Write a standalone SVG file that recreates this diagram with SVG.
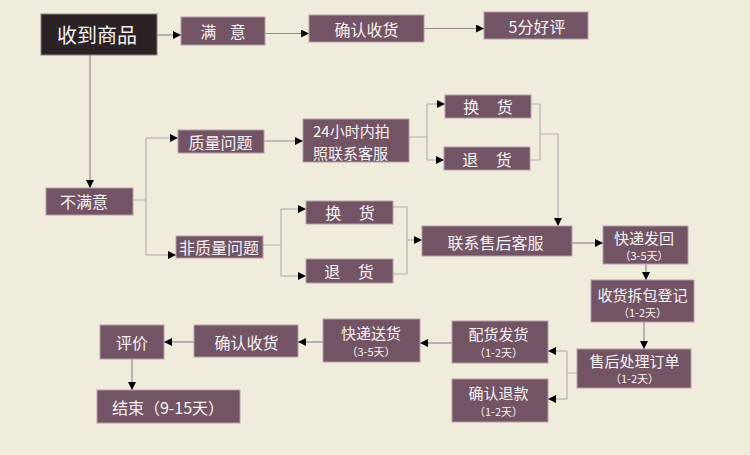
<svg xmlns="http://www.w3.org/2000/svg" width="750" height="455" viewBox="0 0 750 455">
<defs>
<style>
.bg{fill:#f0ecdc}
.box{fill:#735464;stroke:#b39ea9;stroke-width:1}
.dark{fill:#2b2225;stroke:#8c8284;stroke-width:1}
.t{fill:#f7f2f4;font-family:"Noto Sans CJK SC","Microsoft YaHei",sans-serif;font-size:16px;text-anchor:middle;dominant-baseline:central}
.h{font-size:15px}
.s{font-size:11px}
.big{font-size:20px}
.ln{fill:none;stroke:#9a8590;stroke-width:1.2}
.lt{fill:none;stroke:#bcaeb3;stroke-width:1.2}
</style>
<marker id="ah" viewBox="0 0 10 10" refX="10" refY="5" markerWidth="8" markerHeight="8" markerUnits="userSpaceOnUse" orient="auto">
<path d="M0,0 L10,5 L0,10 z" fill="#000"/>
</marker>
</defs>
<rect class="bg" x="0" y="0" width="750" height="455"/>
<g id="connectors">
<path class="ln" d="M157,35 H181" marker-end="url(#ah)"/>
<path class="ln" d="M265,33.5 H309" marker-end="url(#ah)"/>
<path class="ln" d="M424,28.5 H484" marker-end="url(#ah)"/>
<path class="ln" d="M90,55 V188" marker-end="url(#ah)"/>
<path class="lt" d="M133,200 H146 M146,138 V255"/>
<path class="lt" d="M146,138 H178" marker-end="url(#ah)"/>
<path class="lt" d="M146,255 H176" marker-end="url(#ah)"/>
<path class="ln" d="M264,141 H303" marker-end="url(#ah)"/>
<path class="lt" d="M409,137 H427 M427,104 V160"/>
<path class="lt" d="M427,104 H445" marker-end="url(#ah)"/>
<path class="lt" d="M427,160 H444" marker-end="url(#ah)"/>
<path class="lt" d="M531,104 H540 V160 H530 M540,134 H558"/>
<path class="lt" d="M558,134 V226" marker-end="url(#ah)"/>
<path class="lt" d="M263,245 H281 M281,209 V276"/>
<path class="lt" d="M281,209 H306" marker-end="url(#ah)"/>
<path class="lt" d="M281,276 H306" marker-end="url(#ah)"/>
<path class="lt" d="M393,207 H407 V274 H393"/>
<path class="lt" d="M407,240 H422" marker-end="url(#ah)"/>
<path class="ln" d="M572,243 H603" marker-end="url(#ah)"/>
<path class="ln" d="M646,264 V280" marker-end="url(#ah)"/>
<path class="ln" d="M644,322 V349" marker-end="url(#ah)"/>
<path class="lt" d="M577,373 H567 M567,351 V399"/>
<path class="lt" d="M567,351 H548" marker-end="url(#ah)"/>
<path class="lt" d="M567,399 H548" marker-end="url(#ah)"/>
<path class="ln" d="M452,343 H420" marker-end="url(#ah)"/>
<path class="ln" d="M323,342 H298" marker-end="url(#ah)"/>
<path class="ln" d="M194,342 H164" marker-end="url(#ah)"/>
<path class="ln" d="M132,359 V390" marker-end="url(#ah)"/>
</g>
<g id="n-receive"><rect class="dark" x="41" y="14" width="116" height="41"/><text class="t big" x="97" y="34.5">收到商品</text></g>
<g id="n-satisfied"><rect class="box" x="181" y="17" width="84" height="28"/><text class="t" x="223" y="31" word-spacing="10">满 意</text></g>
<g id="n-confirm1"><rect class="box" x="309" y="15" width="115" height="27"/><text class="t" x="366.5" y="29">确认收货</text></g>
<g id="n-good"><rect class="box" x="484" y="12" width="104" height="27"/><text class="t" x="537" y="26">5分好评</text></g>
<g id="n-unsatisfied"><rect class="box" x="46" y="188" width="87" height="27"/><text class="t" x="84" y="201">不满意</text></g>
<g id="n-quality"><rect class="box" x="178" y="130" width="86" height="23"/><text class="t" x="220.5" y="142">质量问题</text></g>
<g id="n-nonquality"><rect class="box" x="176" y="236" width="87" height="22"/><text class="t" x="219" y="247">非质量问题</text></g>
<g id="n-24h"><rect class="box" x="303" y="119" width="106" height="43"/><text class="t h" style="text-anchor:start"><tspan x="313" y="130">24小时内拍</tspan><tspan x="313" y="152">照联系客服</tspan></text></g>
<g id="n-exchange1"><rect class="box" x="445" y="95" width="86" height="23"/><text class="t" x="488" y="106" word-spacing="14">换 货</text></g>
<g id="n-return1"><rect class="box" x="444" y="147" width="86" height="23"/><text class="t" x="487" y="159" word-spacing="14">退 货</text></g>
<g id="n-exchange2"><rect class="box" x="306" y="201" width="87" height="23"/><text class="t" x="350" y="212" word-spacing="14">换 货</text></g>
<g id="n-return2"><rect class="box" x="306" y="259" width="87" height="24"/><text class="t" x="349" y="271" word-spacing="14">退 货</text></g>
<g id="n-contact"><rect class="box" x="422" y="226" width="150" height="30"/><text class="t" x="495.5" y="242">联系售后客服</text></g>
<g id="n-sendback"><rect class="box" x="603" y="226" width="85" height="38"/><text class="t h" x="644" y="237">快递发回</text><text class="t s" x="644" y="255">（3-5天）</text></g>
<g id="n-unpack"><rect class="box" x="591" y="280" width="103" height="42"/><text class="t h" x="642.5" y="294">收货拆包登记</text><text class="t s" x="642.5" y="312">（1-2天）</text></g>
<g id="n-process"><rect class="box" x="577" y="349" width="114" height="39"/><text class="t h" x="634.5" y="360">售后处理订单</text><text class="t s" x="634.5" y="378">（1-2天）</text></g>
<g id="n-ship"><rect class="box" x="452" y="321" width="96" height="42"/><text class="t h" x="498.5" y="333">配货发货</text><text class="t s" x="498.5" y="352">（1-2天）</text></g>
<g id="n-refund"><rect class="box" x="452" y="379" width="96" height="43"/><text class="t h" x="498.5" y="392">确认退款</text><text class="t s" x="498.5" y="411">（1-2天）</text></g>
<g id="n-deliver"><rect class="box" x="323" y="319" width="97" height="43"/><text class="t h" x="371" y="332">快递送货</text><text class="t s" x="371" y="351">（3-5天）</text></g>
<g id="n-confirm2"><rect class="box" x="194" y="325" width="104" height="32"/><text class="t" x="246.5" y="342">确认收货</text></g>
<g id="n-review"><rect class="box" x="100" y="325" width="64" height="34"/><text class="t" x="132" y="342">评价</text></g>
<g id="n-end"><rect class="box" x="97" y="390" width="143" height="33"/><text class="t" x="168" y="407">结束（9-15天）</text></g>
</svg>
